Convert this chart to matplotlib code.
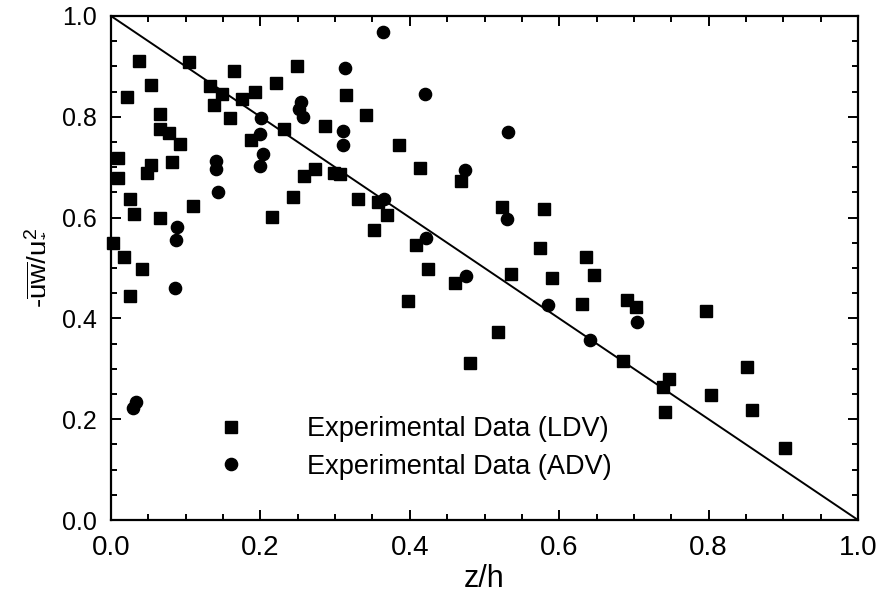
import matplotlib
matplotlib.use("Agg")
import matplotlib.pyplot as plt
from matplotlib.ticker import MultipleLocator

plt.rcParams['font.family'] = ['Liberation Sans', 'DejaVu Sans']
plt.rcParams['mathtext.fontset'] = 'custom'
plt.rcParams['mathtext.rm'] = 'Liberation Sans'
plt.rcParams['mathtext.it'] = 'Liberation Sans'

ldv_x = [0.003, 0.010, 0.010, 0.017, 0.022, 0.026, 0.026, 0.031, 0.038, 0.042,
         0.048, 0.054, 0.054, 0.065, 0.066, 0.065, 0.077, 0.082, 0.092, 0.105,
         0.110, 0.1325, 0.138, 0.149, 0.159, 0.165, 0.176, 0.187, 0.193, 0.215,
         0.221, 0.231, 0.243, 0.249, 0.259, 0.273, 0.286, 0.298, 0.306, 0.315,
         0.330, 0.342, 0.352, 0.358, 0.369, 0.386, 0.398, 0.408, 0.413, 0.424,
         0.4605, 0.469, 0.480, 0.518, 0.524, 0.535, 0.574, 0.580, 0.591, 0.631,
         0.636, 0.647, 0.685, 0.691, 0.703, 0.739, 0.741, 0.747, 0.797, 0.803,
         0.852, 0.858, 0.902]
ldv_y = [0.549, 0.718, 0.678, 0.521, 0.840, 0.637, 0.445, 0.607, 0.911, 0.499,
         0.689, 0.864, 0.704, 0.775, 0.805, 0.599, 0.768, 0.711, 0.746, 0.908,
         0.624, 0.861, 0.823, 0.845, 0.798, 0.891, 0.836, 0.754, 0.849, 0.601,
         0.868, 0.776, 0.641, 0.901, 0.683, 0.696, 0.782, 0.688, 0.687, 0.844,
         0.637, 0.804, 0.575, 0.630, 0.605, 0.744, 0.435, 0.546, 0.699, 0.499,
         0.471, 0.673, 0.311, 0.374, 0.622, 0.488, 0.539, 0.617, 0.480, 0.428,
         0.522, 0.487, 0.316, 0.437, 0.422, 0.263, 0.215, 0.279, 0.415, 0.249,
         0.304, 0.218, 0.142]

adv_x = [0.029, 0.033, 0.086, 0.087, 0.088, 0.141, 0.141, 0.143, 0.199, 0.200,
         0.201, 0.203, 0.252, 0.254, 0.257, 0.310, 0.310, 0.313, 0.364, 0.365,
         0.420, 0.422, 0.474, 0.475, 0.530, 0.531, 0.585, 0.641, 0.704]
adv_y = [0.222, 0.235, 0.460, 0.556, 0.581, 0.713, 0.696, 0.650, 0.766, 0.702,
         0.797, 0.726, 0.815, 0.830, 0.800, 0.772, 0.744, 0.897, 0.969, 0.636,
         0.845, 0.560, 0.694, 0.485, 0.597, 0.769, 0.427, 0.357, 0.392]

line_x = [0.0, 1.0]
line_y = [1.0, 0.0]

fig = plt.figure(figsize=(8.8, 6.03), dpi=100)
ax = fig.add_axes([111/880, 1 - 520/603, 747/880, 504/603])

ax.plot(line_x, line_y, color='black', lw=1.4, zorder=2)
ax.plot(ldv_x, ldv_y, 's', color='black', ms=9.3, ls='none', zorder=3,
        label='Experimental Data (LDV)', clip_on=False)
ax.plot(adv_x, adv_y, 'o', color='black', ms=8.8, ls='none', zorder=3,
        label='Experimental Data (ADV)', clip_on=False)

ax.set_xlim(0, 1)
ax.set_ylim(0, 1)
ax.xaxis.set_major_locator(MultipleLocator(0.2))
ax.xaxis.set_minor_locator(MultipleLocator(0.05))
ax.yaxis.set_major_locator(MultipleLocator(0.2))
ax.yaxis.set_minor_locator(MultipleLocator(0.05))
ax.xaxis.set_major_formatter(plt.FuncFormatter(lambda v, p: f"{v:.1f}"))
ax.yaxis.set_major_formatter(plt.FuncFormatter(lambda v, p: f"{v:.1f}"))

ax.tick_params(which='both', direction='in', top=True, right=True, width=1.4, color='black')
ax.tick_params(which='major', length=7)
ax.tick_params(which='minor', length=4.5)
ax.tick_params(axis='x', which='major', labelsize=20, pad=11)
ax.tick_params(axis='y', which='major', labelsize=18, pad=10)
for s in ax.spines.values():
    s.set_linewidth(1.6)

ax.set_xlabel('z/h', fontsize=22, labelpad=2)
ax.set_ylabel(r'-$\overline{\mathrm{uw}}$/u$_{*}^{2}$', fontsize=20, labelpad=10)

leg = ax.legend(loc='lower left', bbox_to_anchor=(0.128, 0.058), frameon=False,
                fontsize=19.5, handletextpad=2.3, labelspacing=0.43,
                handlelength=1.0, borderaxespad=0)

fig.savefig('out.png', dpi=100)
